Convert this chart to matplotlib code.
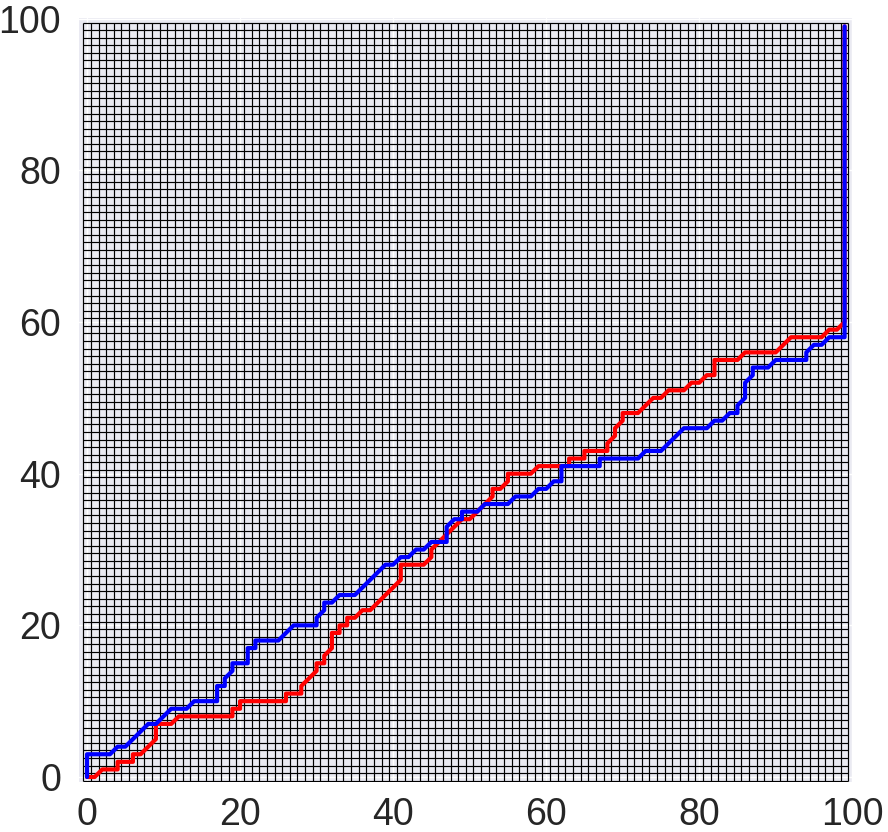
import matplotlib
matplotlib.use('Agg')
import matplotlib.pyplot as plt
import seaborn as sns
import numpy as np

# ---- data: corner points of the two warping paths ----
blue_x = [0, 0, 3, 4, 5, 8, 9, 11, 13, 14, 17, 17, 18, 18, 19, 19, 21, 21, 22, 22, 25, 27, 30, 30,
          31, 31, 32, 33, 35, 39, 40, 41, 42, 43, 44, 45, 47, 47, 48, 49, 49, 51, 52, 55, 56, 58,
          59, 60, 61, 62, 62, 67, 67, 72, 73, 75, 78, 81, 82, 83, 84, 85, 85, 86, 86, 87, 87, 89,
          90, 94, 94, 95, 96, 97, 99, 99]
blue_y = [0, 3, 3, 4, 4, 7, 7, 9, 9, 10, 10, 12, 12, 13, 14, 15, 15, 17, 17, 18, 18, 20, 20, 21,
          22, 23, 23, 24, 24, 28, 28, 29, 29, 30, 30, 31, 31, 33, 34, 34, 35, 35, 36, 36, 37, 37,
          38, 38, 39, 39, 41, 41, 42, 42, 43, 43, 46, 46, 47, 47, 48, 48, 49, 50, 52, 53, 54, 54,
          55, 55, 56, 57, 57, 58, 58, 99]

red_x = [0, 1, 2, 4, 4, 6, 6, 7, 9, 9, 11, 12, 19, 19, 20, 20, 26, 26, 28, 28, 30, 30, 31, 31,
         32, 32, 33, 33, 34, 34, 35, 36, 37, 41, 41, 44, 45, 45, 49, 50, 52, 53, 53, 54, 55, 55,
         58, 59, 63, 63, 65, 65, 68, 68, 69, 69, 70, 70, 72, 74, 75, 76, 78, 79, 80, 81, 82, 82,
         85, 86, 90, 92, 96, 97, 98, 99, 99]
red_y = [0, 0, 1, 1, 2, 2, 3, 3, 5, 7, 7, 8, 8, 9, 9, 10, 10, 11, 11, 12, 14, 15, 15, 16,
         17, 19, 19, 20, 20, 21, 21, 22, 22, 26, 28, 28, 29, 30, 34, 34, 36, 37, 38, 38, 39, 40,
         40, 41, 41, 42, 42, 43, 43, 44, 45, 46, 47, 48, 48, 50, 50, 51, 51, 52, 52, 53, 53, 55,
         55, 56, 56, 58, 58, 59, 59, 60, 99]

n_cells = 100
tick_vals = [0, 20, 40, 60, 80, 100]

sns.set_theme(style='darkgrid', font_scale=3)
plt.rcParams['font.family'] = ['Liberation Sans', 'DejaVu Sans']

fig = plt.figure(figsize=(8.88, 8.32), dpi=100)
ax = fig.add_axes([79 / 888, 50 / 832, 774 / 888, 764 / 832])

edges = np.arange(n_cells + 1) - 0.5
ax.vlines(edges, edges[0], edges[-1], colors='black', linewidth=0.85, zorder=1.5)
ax.hlines(edges, edges[0], edges[-1], colors='black', linewidth=0.85, zorder=1.5)

ax.plot(red_x, red_y, color='#ff0000', linewidth=3, zorder=3)
ax.plot(blue_x, blue_y, color='#0000ff', linewidth=3, zorder=4)

ax.set_xlim(-1.05, 100.1)
ax.set_ylim(-0.66, 100.1)
ax.set_xticks(tick_vals)
ax.set_yticks(tick_vals)
ax.tick_params(axis='both', labelsize=27)
ax.tick_params(axis='y', pad=7)
ax.tick_params(axis='x', pad=5)
for s in ax.spines.values():
    s.set_visible(False)

fig.savefig('out.png', dpi=100)
